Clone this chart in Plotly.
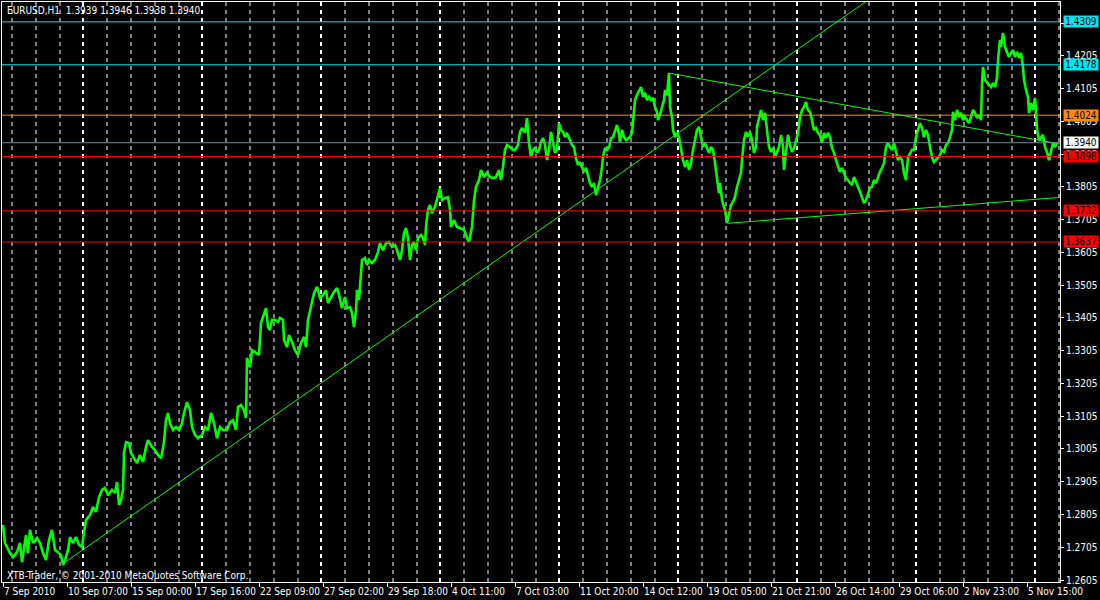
import plotly.graph_objects as go

# ---------------- data ----------------
bar_index = [0, 2, 7, 10, 14, 17, 19, 23, 25, 27, 30, 34, 37, 40, 43, 46, 49, 52, 55, 58, 60, 62, 65, 67, 70, 73, 76, 79,
             81, 83, 87, 90, 93, 96, 99, 102, 105, 109, 112, 114, 116, 118, 120, 121, 123, 126, 128, 131, 134, 137, 140,
             143, 145, 149, 152, 155, 158, 161, 163, 165, 167, 170, 173, 176, 179, 181, 184, 187, 189, 192, 195, 199,
             202, 205, 208, 211, 214, 217, 220, 224, 227, 230, 233, 235, 238, 241, 243,
             244, 247, 249, 253, 256, 258, 261, 263, 265, 267, 269, 272, 275, 277, 280, 281, 284, 286, 289, 292, 295,
             298, 301, 303, 305, 308, 311, 314, 317, 320, 323, 325, 328, 331, 334, 336, 339, 342, 344, 347, 349, 351,
             353, 354, 356, 358, 359, 362, 364, 366, 369, 372, 375, 377, 380, 383, 386, 389, 392, 394, 397, 399, 401,
             403, 405, 407, 409, 411, 413, 415, 418, 420, 422, 423, 425, 427, 429, 432, 435, 437, 439, 442, 445, 447,
             448, 451, 454, 457, 461, 464, 466, 469, 471,
             473, 476, 478, 481, 484, 487, 490, 493, 496, 498, 500, 502, 504, 507, 510, 512, 515, 517, 519, 522, 524,
             526, 528, 530, 532, 534, 536, 538, 540, 542, 544, 546, 548, 550, 552, 554, 556, 558, 560, 562, 564, 566,
             569, 571, 573, 575, 577, 579, 581, 583, 585, 587, 589, 591, 593, 595, 597, 599, 600, 602, 604, 606, 608,
             610, 612, 614, 616, 617, 619, 621, 623, 625, 627, 629, 630, 632, 634, 636, 638, 640, 642, 644, 646, 648,
             650, 652, 654, 655, 657, 659, 661, 662, 664, 666, 667, 669, 670, 672, 674, 676, 678, 680, 682, 684, 686,
             688, 690, 692, 694, 696, 698, 700, 702, 704, 706, 708, 710, 712, 714, 716, 717, 719, 721, 722, 724, 726,
             728, 730, 732, 734, 736, 738, 739, 741, 743, 745, 747, 749, 751, 753, 754, 756, 758, 760, 762, 764, 766,
             768, 770, 772, 774, 776, 778, 780, 781, 783, 785, 787, 789, 791, 793, 795, 797, 799, 801, 803, 805, 807,
             809, 811, 813, 815, 817, 819, 821, 823, 825, 827, 829, 831, 833, 835, 837, 839, 841, 843, 845, 847, 849,
             851, 853, 855, 857, 859, 861, 863, 865, 867, 869, 871, 873, 875, 877, 879, 881, 883, 885, 887, 889, 891,
             893, 895, 897, 899, 901, 903, 905, 907, 909, 911, 913, 915, 917, 919, 921, 923, 925, 927, 929, 931, 933,
             935, 937, 939, 941, 943, 945, 947, 949, 950, 952, 954, 956, 958, 960, 962, 964, 966, 968, 970, 972, 974,
             976, 978, 979, 980, 982, 984, 986, 988, 990, 992, 994, 995, 997, 998, 1000, 1002, 1004, 1006, 1008, 1010,
             1012, 1014, 1016, 1018, 1020, 1021, 1023, 1025, 1026, 1028, 1030, 1032, 1033, 1034, 1036, 1038, 1040,
             1042, 1044, 1046, 1048, 1050, 1052, 1054]

price = [1.2773, 1.2718, 1.2687, 1.2675, 1.2690, 1.2718, 1.2660, 1.2742, 1.2687, 1.2758, 1.2718, 1.2733, 1.2718, 1.2687,
         1.2666, 1.2727, 1.2758, 1.2697, 1.2690, 1.2681, 1.2651, 1.2666, 1.2697, 1.2736, 1.2718, 1.2736, 1.2712, 1.2706,
         1.2751, 1.2788, 1.2803, 1.2828, 1.2813, 1.2858, 1.2880, 1.2886, 1.2864, 1.2880, 1.2871, 1.2904, 1.2834, 1.2849,
         1.2880, 1.2993, 1.3026, 1.3023, 1.2993, 1.2977, 1.2962, 1.2987, 1.2965, 1.3011, 1.3032, 1.3011, 1.3002, 1.2987,
         1.2977, 1.3026, 1.3093, 1.3115, 1.3084, 1.3063, 1.3072, 1.3063, 1.3084, 1.3115, 1.3148, 1.3124, 1.3072, 1.3048,
         1.3038, 1.3048, 1.3072, 1.3063, 1.3115, 1.3084, 1.3038, 1.3072, 1.3063, 1.3063, 1.3087, 1.3093, 1.3063, 1.3133,
         1.3139, 1.3124, 1.3100,
         1.3283, 1.3255, 1.3307, 1.3298, 1.3292, 1.3390, 1.3420, 1.3435, 1.3377, 1.3368, 1.3399, 1.3399, 1.3393, 1.3405,
         1.3399, 1.3338, 1.3316, 1.3353, 1.3332, 1.3307, 1.3292, 1.3329, 1.3347, 1.3316, 1.3399, 1.3438, 1.3481, 1.3500,
         1.3466, 1.3475, 1.3490, 1.3451, 1.3469, 1.3484, 1.3496, 1.3475, 1.3435, 1.3469, 1.3435, 1.3438, 1.3420, 1.3377,
         1.3429, 1.3490, 1.3460, 1.3530, 1.3582, 1.3588, 1.3567, 1.3582, 1.3573, 1.3582, 1.3606, 1.3634, 1.3612, 1.3634,
         1.3637, 1.3622, 1.3628, 1.3612, 1.3582, 1.3612, 1.3664, 1.3680, 1.3649, 1.3582, 1.3628, 1.3637, 1.3612, 1.3649,
         1.3658, 1.3649, 1.3628, 1.3683, 1.3735, 1.3750, 1.3725, 1.3744, 1.3780, 1.3802, 1.3765, 1.3771, 1.3774, 1.3735,
         1.3683, 1.3704, 1.3683, 1.3680, 1.3674, 1.3649, 1.3637, 1.3683, 1.3765,
         1.3805, 1.3826, 1.3857, 1.3835, 1.3848, 1.3835, 1.3832, 1.3835, 1.3857, 1.3826, 1.3866, 1.3918, 1.3933, 1.3927,
         1.3918, 1.3918, 1.3933, 1.3973, 1.3985, 1.3970, 1.4015, 1.3939, 1.3896, 1.3918, 1.3924, 1.3909, 1.3918, 1.3942,
         1.3954, 1.3933, 1.3887, 1.3918, 1.3973, 1.3939, 1.3909, 1.3918, 1.4000, 1.3979, 1.3973, 1.3957, 1.3970, 1.3954,
         1.3933, 1.3927, 1.3893, 1.3872, 1.3881, 1.3866, 1.3851, 1.3863, 1.3835, 1.3817, 1.3805, 1.3817, 1.3780, 1.3802,
         1.3826, 1.3866, 1.3896, 1.3924, 1.3918, 1.3924, 1.3954, 1.3957, 1.3973, 1.3994, 1.3964, 1.3942, 1.3979, 1.3957,
         1.3948, 1.3954, 1.3957, 1.3970, 1.4009, 1.4070, 1.4086, 1.4101, 1.4110, 1.4080, 1.4092, 1.4070, 1.4080, 1.4070,
         1.4077, 1.4049, 1.4034, 1.4009, 1.4025, 1.4049, 1.4070, 1.4101, 1.4086, 1.4153, 1.4049, 1.4018, 1.3979, 1.3957,
         1.3970, 1.3957, 1.3918, 1.3887, 1.3866, 1.3887, 1.3857, 1.3878, 1.3918, 1.3948, 1.3979, 1.3988, 1.3957, 1.3927,
         1.3939, 1.3924, 1.3909, 1.3927, 1.3918, 1.3878, 1.3826, 1.3786, 1.3817, 1.3765, 1.3744, 1.3735, 1.3695, 1.3725,
         1.3750, 1.3759, 1.3774, 1.3805, 1.3826, 1.3848, 1.3887, 1.3948, 1.3973, 1.3957, 1.3973, 1.3948, 1.3909, 1.3927,
         1.3988, 1.4018, 1.4040, 1.4009, 1.4031, 1.3979, 1.3927,
         1.3912, 1.3924, 1.3896, 1.3909, 1.3927, 1.3964, 1.3927, 1.3857, 1.3909, 1.3964, 1.3933, 1.3912, 1.3924, 1.3948,
         1.3970, 1.4018, 1.4040, 1.4049, 1.4064, 1.4040, 1.4034, 1.4009, 1.3979, 1.3985, 1.3970, 1.3964, 1.3939, 1.3970,
         1.3954, 1.3970, 1.3957, 1.3924, 1.3909, 1.3887, 1.3866, 1.3851, 1.3863, 1.3848, 1.3832, 1.3826, 1.3817, 1.3811,
         1.3835, 1.3817, 1.3805, 1.3790, 1.3774, 1.3756, 1.3765, 1.3786, 1.3802, 1.3805, 1.3826, 1.3817, 1.3835, 1.3851,
         1.3863, 1.3878, 1.3927, 1.3939, 1.3927, 1.3918, 1.3939, 1.3909, 1.3887, 1.3896, 1.3887, 1.3848, 1.3826, 1.3896,
         1.3909, 1.3918, 1.3918, 1.3957, 1.3979, 1.4000, 1.3985, 1.3957, 1.3979, 1.3964, 1.3927, 1.3896, 1.3881, 1.3887,
         1.3896, 1.3902, 1.3918, 1.3912, 1.3933, 1.3939, 1.3957, 1.3979, 1.4034, 1.4009, 1.4040, 1.4018, 1.4031, 1.4009,
         1.4018, 1.4009, 1.4000, 1.4018, 1.4040, 1.4031, 1.4015, 1.4025, 1.4009, 1.4122, 1.4171, 1.4132, 1.4122, 1.4116,
         1.4110, 1.4122, 1.4110, 1.4138, 1.4193, 1.4254, 1.4232, 1.4275, 1.4232, 1.4217, 1.4202, 1.4214, 1.4223, 1.4202,
         1.4217, 1.4199, 1.4214, 1.4171, 1.4132, 1.4101, 1.4080, 1.4031, 1.4061, 1.4040, 1.4077, 1.4031, 1.3979, 1.3948,
         1.3957, 1.3964, 1.3927, 1.3912, 1.3887, 1.3909, 1.3939, 1.3927, 1.3940]

x_tick_bars = [0, 64, 128, 192, 256, 320, 384, 448, 512, 576, 640, 704, 768, 832, 896, 960, 1024]
x_tick_labels = ["7 Sep 2010", "10 Sep 07:00", "15 Sep 00:00", "17 Sep 16:00", "22 Sep 09:00", "27 Sep 02:00",
                 "29 Sep 18:00", "4 Oct 11:00", "7 Oct 03:00", "11 Oct 20:00", "14 Oct 12:00", "19 Oct 05:00",
                 "21 Oct 21:00", "26 Oct 14:00", "29 Oct 06:00", "2 Nov 23:00", "5 Nov 15:00"]

y_tick_values = [1.2605, 1.2705, 1.2805, 1.2905, 1.3005, 1.3105, 1.3205, 1.3305, 1.3405, 1.3505, 1.3605,
                 1.3705, 1.3805, 1.3905, 1.4005, 1.4105, 1.4205, 1.4305]
y_tick_labels = ["%.4f" % v for v in y_tick_values]

level_prices = [1.4309, 1.4178, 1.4024, 1.3940, 1.3898, 1.3732, 1.3637]
level_line_colors = ["#00E5EE", "#00E5EE", "#FF8C00", "#778899", "#FF0000", "#FF0000", "#FF0000"]
level_box_colors = ["#00E5EE", "#00E5EE", "#FF8C00", "#FFFFFF", "#FF0000", "#FF0000", "#FF0000"]

trend_up_bars = [61, 862]
trend_up_prices = [1.2657, 1.4369]
trend_down_bars = [667, 1057]
trend_down_prices = [1.4152, 1.3936]
trend_low_bars = [725, 1057]
trend_low_prices = [1.3694, 1.3773]

day_start_bars = [9, 33, 57, 104, 128, 152, 176, 223, 247, 271, 295, 342, 366, 390, 414, 461, 485, 509, 533,
                  580, 604, 628, 652, 699, 723, 747, 771, 818, 842, 866, 890, 937, 961, 985, 1009, 1056]
week_start_bars = [80, 199, 318, 437, 556, 675, 794, 913, 1032]

header_text = "EURUSD,H1  1.3939 1.3946 1.3938 1.3940"
footer_text = "XTB-Trader, \u00a9 2001-2010 MetaQuotes Software Corp."

# ---------------- figure ----------------
FONT = "DejaVu Sans Condensed, Liberation Sans Narrow, Arial Narrow, sans-serif"
W, H = 1100, 600
ML, MR, MT, MB = 2, 40, 2, 18

fig = go.Figure()

fig.add_trace(go.Scatter(x=bar_index, y=price, mode="lines",
                         line=dict(color="#00FF00", width=2.6), hoverinfo="skip"))
for bx, py in [(trend_up_bars, trend_up_prices), (trend_down_bars, trend_down_prices),
               (trend_low_bars, trend_low_prices)]:
    fig.add_trace(go.Scatter(x=bx, y=py, mode="lines",
                             line=dict(color="#00FF00", width=1), hoverinfo="skip"))

shapes = []
for b in day_start_bars:
    shapes.append(dict(type="line", xref="x", yref="paper", x0=b, x1=b, y0=0, y1=1, layer="below",
                       line=dict(color="#FFFFFF", width=1, dash="4px,4px")))
for b in week_start_bars:
    shapes.append(dict(type="line", xref="x", yref="paper", x0=b, x1=b, y0=0, y1=1, layer="below",
                       line=dict(color="#FFFFFF", width=2, dash="4px,4px")))
for p, c in zip(level_prices, level_line_colors):
    shapes.append(dict(type="line", xref="paper", yref="y", x0=0, x1=1, y0=p, y1=p, layer="above",
                       line=dict(color=c, width=1)))

annotations = []
for p, c in zip(level_prices, level_box_colors):
    annotations.append(dict(xref="paper", yref="y", x=1.0028, y=p, xanchor="left", yanchor="middle",
                            text="%.4f" % p, showarrow=False, bgcolor=c, borderpad=0, width=34, height=11,
                            align="center", font=dict(family=FONT, size=10, color="#000000")))
annotations.append(dict(xref="paper", yref="paper", x=0.003, y=0.986, xanchor="left", yanchor="middle",
                        text=header_text, showarrow=False, font=dict(family=FONT, size=10, color="#FFFFFF")))
annotations.append(dict(xref="paper", yref="paper", x=0.003, y=0.012, xanchor="left", yanchor="middle",
                        text=footer_text, showarrow=False, font=dict(family=FONT, size=10, color="#FFFFFF")))

fig.update_layout(
    width=W, height=H, margin=dict(l=ML, r=MR, t=MT, b=MB, pad=0),
    paper_bgcolor="#000000", plot_bgcolor="#000000", showlegend=False,
    shapes=shapes, annotations=annotations,
    font=dict(family=FONT, size=10, color="#FFFFFF"),
    xaxis=dict(range=[-1, 1057], tickmode="array", tickvals=x_tick_bars, ticktext=x_tick_labels,
               ticks="outside", ticklen=4, tickcolor="#FFFFFF", ticklabelposition="outside right",
               tickangle=0, automargin=False,
               showgrid=False, zeroline=False, showline=True, linecolor="#FFFFFF", linewidth=1, mirror=True,
               tickfont=dict(family=FONT, size=10, color="#FFFFFF"), fixedrange=True),
    yaxis=dict(range=[1.25989, 1.43696], side="right", tickmode="array", tickvals=y_tick_values,
               ticktext=y_tick_labels, ticks="outside", ticklen=3, tickcolor="#FFFFFF", automargin=False,
               showgrid=False, zeroline=False, showline=True, linecolor="#FFFFFF", linewidth=1, mirror=True,
               tickfont=dict(family=FONT, size=10, color="#FFFFFF"), fixedrange=True),
)

fig.write_html("out.html", config={"displayModeBar": False},
               post_script="document.body.style.margin='0';document.body.style.overflow='hidden';")
